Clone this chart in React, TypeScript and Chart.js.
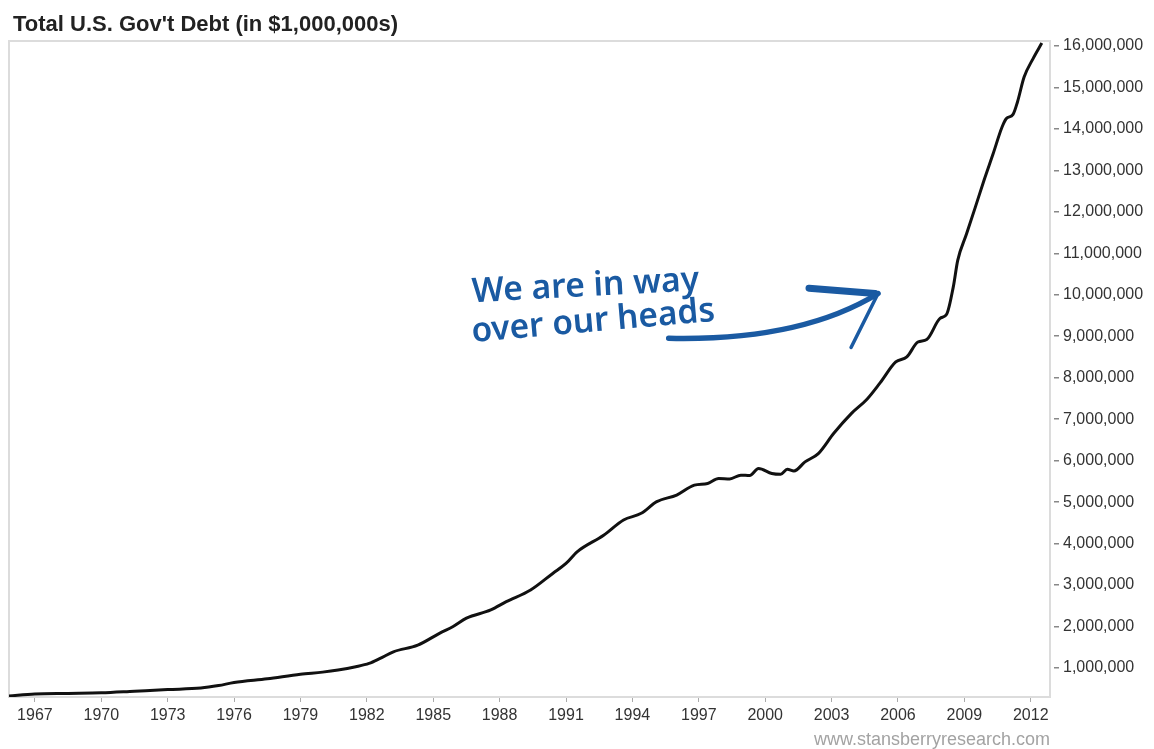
import { useEffect, useRef } from "react";
import { Chart, registerables } from "chart.js";

Chart.register(...registerables);

// ---- Data (values in $ millions) ----
const years: number[] = [
  1965.83, 1967, 1968.5, 1970, 1971.5, 1973, 1974.5, 1975.3, 1976, 1977.5,
  1979, 1980, 1980.7, 1981.5, 1982.1, 1982.6, 1983.2, 1984.3, 1985.3, 1985.9,
  1986.5, 1987.6, 1988.3, 1989.4, 1990.4, 1991.0, 1991.5, 1992.7, 1993.6, 1994.4,
  1995.1, 1996.0, 1996.8, 1997.4, 1997.9, 1998.4, 1998.9, 1999.3, 1999.7, 2000.3,
  2000.7, 2001.0, 2001.3, 2001.8, 2002.4, 2003.1, 2003.9, 2004.6, 2005.2, 2005.9,
  2006.4, 2006.9, 2007.3, 2007.9, 2008.2, 2008.5, 2008.7, 2009.1, 2009.5, 2009.9,
  2010.3, 2010.7, 2010.9, 2011.2, 2011.4, 2011.7, 2012.1, 2012.5,
];

const debt: number[] = [
  325000, 370000, 385000, 400000, 440000, 480000, 515000, 575000, 650000, 740000,
  850000, 900000, 950000, 1030000, 1110000, 1230000, 1390000, 1550000, 1840000, 2000000,
  2200000, 2400000, 2600000, 2880000, 3280000, 3520000, 3800000, 4200000, 4570000, 4730000,
  5010000, 5170000, 5410000, 5450000, 5570000, 5560000, 5650000, 5640000, 5810000, 5690000,
  5670000, 5790000, 5750000, 5970000, 6170000, 6660000, 7140000, 7480000, 7880000, 8380000,
  8500000, 8860000, 8920000, 9430000, 9530000, 10190000, 10830000, 11470000, 12120000, 12780000,
  13400000, 14040000, 14250000, 14350000, 14650000, 15250000, 15690000, 16070000,
];

const xTickYears: number[] = [
  1967, 1970, 1973, 1976, 1979, 1982, 1985, 1988, 1991, 1994, 1997, 2000, 2003, 2006, 2009, 2012,
];

const yTickValues: number[] = [
  1000000, 2000000, 3000000, 4000000, 5000000, 6000000, 7000000, 8000000,
  9000000, 10000000, 11000000, 12000000, 13000000, 14000000, 15000000, 16000000,
];

const TITLE = "Total U.S. Gov't Debt (in $1,000,000s)";
const SOURCE = "www.stansberryresearch.com";
const NOTE_LINES: string[] = ["We are in way", "over our heads"];

const X_MIN = 1965.83;
const X_MAX = 2012.87;
const Y_MIN = 300000;
const Y_MAX = 16120000;

const BLUE = "#1a5aa2";
const FONT = '"Liberation Sans", Arial, sans-serif';

// annotation anchors, in data units (year, $ millions)
const NOTE1 = { x: 1986.77, y: 9820000, x2: 1997.05, rot: -3 };
const NOTE2 = { x: 1986.77, y: 8860000, x2: 1997.8, rot: -5 };
const ARROW = {
  start: { x: 1995.64, y: 8950000 },
  ctrl: { x: 2001.6, y: 8880000 },
  tip: { x: 2005.1, y: 10030000 },
  barbTop: { x: 2001.98, y: 10160000 },
  barbLow: { x: 2003.88, y: 8730000 },
};

const decorPlugin = {
  id: "decor",
  beforeDatasetsDraw(chart: any) {
    const { ctx, chartArea } = chart;
    const { left, top, right, bottom } = chartArea;
    ctx.save();
    ctx.strokeStyle = "#dcdcdc";
    ctx.lineWidth = 2;
    ctx.strokeRect(left, top, right - left, bottom - top);
    ctx.restore();
  },
  afterDraw(chart: any) {
    const { ctx, chartArea } = chart;
    const xs = chart.scales.x;
    const ys = chart.scales.y;
    const px = (p: { x: number; y: number }) => ({
      x: xs.getPixelForValue(p.x),
      y: ys.getPixelForValue(p.y),
    });

    ctx.save();
    // title
    ctx.fillStyle = "#222";
    ctx.font = `bold 22px ${FONT}`;
    ctx.textAlign = "left";
    ctx.textBaseline = "alphabetic";
    ctx.fillText(TITLE, 13, 31);

    // source
    ctx.fillStyle = "#a3a3a3";
    ctx.font = `18px ${FONT}`;
    ctx.textAlign = "right";
    ctx.fillText(SOURCE, chartArea.right, 745);

    // handwritten note
    ctx.fillStyle = BLUE;
    ctx.font = `600 34px "Noto Sans", sans-serif`;
    ctx.textAlign = "left";
    [NOTE1, NOTE2].forEach((n, i) => {
      const a = px(n);
      const wTarget = xs.getPixelForValue(n.x2) - a.x;
      const w = ctx.measureText(NOTE_LINES[i]).width;
      ctx.save();
      ctx.translate(a.x, a.y);
      ctx.rotate((n.rot * Math.PI) / 180);
      ctx.scale(wTarget / w, 1);
      ctx.fillText(NOTE_LINES[i], 0, 0);
      ctx.restore();
    });

    // arrow
    const s = px(ARROW.start);
    const c = px(ARROW.ctrl);
    const t = px(ARROW.tip);
    const bt = px(ARROW.barbTop);
    const bl = px(ARROW.barbLow);
    ctx.strokeStyle = BLUE;
    ctx.lineCap = "round";
    ctx.lineJoin = "round";
    ctx.lineWidth = 5.5;
    ctx.beginPath();
    ctx.moveTo(s.x, s.y);
    ctx.quadraticCurveTo(c.x, c.y, t.x, t.y);
    ctx.stroke();
    ctx.lineWidth = 7;
    ctx.beginPath();
    ctx.moveTo(bt.x, bt.y);
    ctx.lineTo(t.x - 3, t.y);
    ctx.stroke();
    ctx.lineWidth = 3.5;
    ctx.beginPath();
    ctx.moveTo(t.x, t.y);
    ctx.lineTo(bl.x, bl.y);
    ctx.stroke();
    ctx.restore();
  },
};

export default function App() {
  const canvasRef = useRef<HTMLCanvasElement | null>(null);

  useEffect(() => {
    if (!canvasRef.current) return;
    const chart = new Chart(canvasRef.current, {
      type: "line",
      data: {
        datasets: [
          {
            label: "Total U.S. Gov't Debt",
            data: years.map((yr, i) => ({ x: yr, y: debt[i] })),
            borderColor: "#111",
            borderWidth: 3,
            pointRadius: 0,
            cubicInterpolationMode: "monotone",
            fill: false,
          },
        ],
      },
      options: {
        animation: false,
        responsive: true,
        maintainAspectRatio: false,
        layout: { padding: { left: 9, top: 41, right: 0, bottom: 0 } },
        plugins: {
          legend: { display: false },
          tooltip: { enabled: false },
          title: { display: false },
        },
        scales: {
          x: {
            type: "linear",
            min: X_MIN,
            max: X_MAX,
            afterBuildTicks: (scale: any) => {
              scale.ticks = xTickYears.map((v) => ({ value: v }));
            },
            afterFit: (scale: any) => {
              scale.height = 52;
            },
            border: { display: false },
            grid: {
              display: true,
              drawOnChartArea: false,
              drawTicks: true,
              tickLength: 5,
              color: "#aaaaaa",
              lineWidth: 1,
            },
            ticks: {
              autoSkip: false,
              maxRotation: 0,
              padding: 4,
              color: "#333",
              font: { family: FONT, size: 16 },
              callback: (v: any) => String(v),
            },
          },
          y: {
            type: "linear",
            position: "right",
            min: Y_MIN,
            max: Y_MAX,
            afterBuildTicks: (scale: any) => {
              scale.ticks = yTickValues.map((v) => ({ value: v }));
            },
            afterFit: (scale: any) => {
              scale.width = 104;
            },
            border: { display: false },
            grid: {
              display: true,
              drawOnChartArea: false,
              drawTicks: true,
              tickLength: 9,
              tickBorderDash: [0, 4, 5, 50],
              color: "#888888",
              lineWidth: 1.5,
            },
            ticks: {
              autoSkip: false,
              padding: 4,
              color: "#333",
              font: { family: FONT, size: 16 },
              callback: (v: any) => Number(v).toLocaleString("en-US"),
            },
          },
        },
      },
      plugins: [decorPlugin],
    } as any);
    return () => chart.destroy();
  }, []);

  return (
    <div style={{ position: "fixed", left: 0, top: 0, width: 1154, height: 749, background: "#fff" }}>
      <canvas ref={canvasRef} />
    </div>
  );
}
